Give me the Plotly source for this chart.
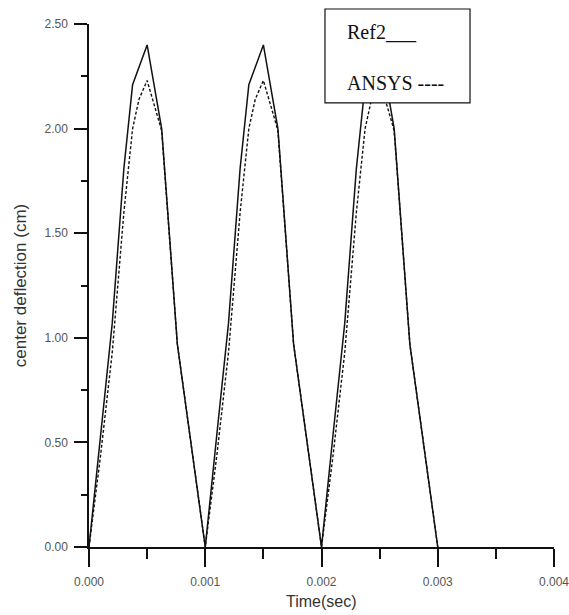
import plotly.graph_objects as go

# Centre deflection vs time, three load cycles
ref2_t = [0.0, 0.0001, 0.0002, 0.0003, 0.000375, 0.0005, 0.000625, 0.00076, 0.001,
          0.0011, 0.0012, 0.0013, 0.001375, 0.0015, 0.001625, 0.00176, 0.002,
          0.0021, 0.0022, 0.0023, 0.002375, 0.0025, 0.002625, 0.00276, 0.003]
ref2_v = [0.0, 0.54, 1.07, 1.81, 2.21, 2.40, 2.00, 0.97, 0.0,
          0.54, 1.07, 1.81, 2.21, 2.40, 2.00, 0.97, 0.0,
          0.54, 1.07, 1.81, 2.21, 2.40, 2.00, 0.97, 0.0]

ansys_t = [0.0, 0.0001, 0.0002, 0.0003, 0.000375, 0.00043, 0.0005, 0.0006, 0.000625, 0.00076, 0.001,
           0.0011, 0.0012, 0.0013, 0.001375, 0.00143, 0.0015, 0.0016, 0.001625, 0.00176, 0.002,
           0.0021, 0.0022, 0.0023, 0.002375, 0.00243, 0.0025, 0.0026, 0.002625, 0.00276, 0.003]
ansys_v = [0.0, 0.44, 0.93, 1.60, 2.00, 2.14, 2.23, 2.04, 1.99, 0.97, 0.0,
           0.44, 0.93, 1.60, 2.00, 2.14, 2.23, 2.04, 1.99, 0.97, 0.0,
           0.44, 0.93, 1.60, 2.00, 2.14, 2.23, 2.04, 1.99, 0.97, 0.0]

x_ticks = [0.0, 0.001, 0.002, 0.003, 0.004]
x_labels = ["0.000", "0.001", "0.002", "0.003", "0.004"]
y_ticks = [0.0, 0.5, 1.0, 1.5, 2.0, 2.5]
y_labels = ["0.00", "0.50", "1.00", "1.50", "2.00", "2.50"]

fig = go.Figure()
fig.add_trace(go.Scatter(x=ref2_t, y=ref2_v, mode="lines", name="Ref2",
                         line=dict(color="#111111", width=1.5)))
fig.add_trace(go.Scatter(x=ansys_t, y=ansys_v, mode="lines", name="ANSYS",
                         line=dict(color="#111111", width=1.4, dash="3px,2px")))

tick_font = dict(family="Liberation Sans, Arial", size=12, color="#555555")
title_font = dict(family="Liberation Sans, Arial", size=16, color="#333333")

fig.update_layout(
    width=569, height=615,
    margin=dict(l=89, r=15, t=24, b=68),
    paper_bgcolor="white", plot_bgcolor="white",
    showlegend=False,
    xaxis=dict(
        range=[0, 0.004], tickvals=x_ticks, ticktext=x_labels,
        showline=True, linecolor="#111111", linewidth=1.5,
        ticks="outside", ticklen=18, tickwidth=1.5, tickcolor="#111111",
        minor=dict(dtick=0.0005, ticks="outside", ticklen=10, tickwidth=1.5, tickcolor="#111111"),
        showgrid=False, zeroline=False, tickfont=tick_font,
        ticklabelstandoff=5, ticklabeloverflow="allow", automargin=False,
    ),
    yaxis=dict(
        range=[0, 2.5], tickvals=y_ticks, ticktext=y_labels,
        showline=True, linecolor="#111111", linewidth=1.5,
        ticks="outside", ticklen=13, tickwidth=1.5, tickcolor="#111111",
        minor=dict(dtick=0.25, ticks="outside", ticklen=6, tickwidth=1.5, tickcolor="#111111"),
        showgrid=False, zeroline=False, tickfont=tick_font,
        ticklabelstandoff=4, automargin=False,
        title=dict(text="center deflection (cm)", font=dict(family="Liberation Sans, Arial", size=17, color="#333333"),
                   standoff=14),
    ),
)

# x-axis title placed just under the tick labels
fig.add_annotation(xref="paper", yref="paper", x=0.5, y=-0.1033, text="Time(sec)",
                   showarrow=False, xanchor="center", yanchor="middle", font=title_font)

# Legend box drawn over the curves
fig.add_shape(type="rect", xref="paper", yref="paper",
              x0=0.5075, x1=0.8194, y0=0.849, y1=1.0287,
              line=dict(color="#111111", width=1.2), fillcolor="white", layer="above")
legend_font = dict(family="Liberation Serif, Times New Roman", size=20, color="#111111")
fig.add_annotation(xref="paper", yref="paper", x=0.5505, y=0.9847, text="Ref2___",
                   showarrow=False, xanchor="left", yanchor="middle", font=legend_font)
fig.add_annotation(xref="paper", yref="paper", x=0.5505, y=0.8872, text="ANSYS ----",
                   showarrow=False, xanchor="left", yanchor="middle", font=legend_font)

fig.write_html("out.html")
